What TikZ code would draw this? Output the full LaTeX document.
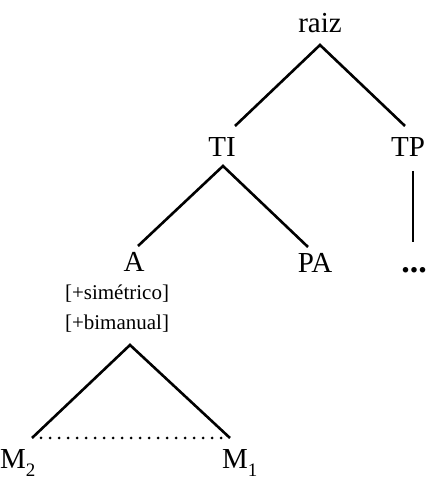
\documentclass[tikz,border=0pt]{standalone}
\usepackage{fontspec}
\setmainfont{Liberation Serif}
\usepackage{tikz}
\usetikzlibrary{positioning,calc}

\newcommand{\subM}[1]{M\raisebox{-0.28em}{\fontsize{19}{19}\selectfont #1}}

\begin{document}
\begin{tikzpicture}[
  x=1pt, y=1pt,
  label/.style={anchor=base, inner sep=0pt, font=\fontsize{29}{34}\selectfont},
  feat/.style={anchor=base, inner sep=0pt, font=\fontsize{21}{25}\selectfont},
  branch/.style={line width=2.6pt},
  link/.style={line width=3pt, line cap=round, dash pattern=on 0pt off 9pt}
]
  \useasboundingbox (0,0) rectangle (432,480);
  % nodes of the tree
  \node[label] (raiz) at (320,447) {raiz};
  \node[label] (ti) at (222,323) {TI};
  \node[label] (tp) at (408,323) {TP};
  \node[label] (a) at (134,208) {A};
  \node[label] (pa) at (315,207) {PA};
  \node[label, font=\fontsize{34}{34}\selectfont\bfseries] (more) at (414,207) {...};
  \node[feat] (sim) at (117,180) {[+simétrico]};
  \node[feat, below=30pt of sim.base, anchor=base] (bim) {[+bimanual]};
  \node[label, anchor=base west] (m2) at (0,12) {\subM{2}};
  \node[label, anchor=base west] (m1) at (222,12) {\subM{1}};
  % branches
  \draw[branch] ([xshift=13pt,yshift=31pt]ti.base) -- ([yshift=-12pt]raiz.base) -- ([xshift=-3pt,yshift=31pt]tp.base);
  \draw[branch] ([xshift=4pt,yshift=26pt]a.base) -- ([xshift=1pt,yshift=-9pt]ti.base) -- ([xshift=-7pt,yshift=26pt]pa.base);
  \draw[branch] ([xshift=5pt,yshift=-14pt]tp.base) -- ([xshift=-1pt,yshift=31pt]more.base);
  \draw[branch] ([xshift=32pt,yshift=30pt]m2.base west) -- ([xshift=13pt,yshift=-15pt]bim.base) -- ([xshift=8pt,yshift=30pt]m1.base west);
  \draw[link] ([xshift=41pt,yshift=30pt]m2.base west) -- ([xshift=2pt,yshift=30pt]m1.base west);
\end{tikzpicture}
\end{document}
